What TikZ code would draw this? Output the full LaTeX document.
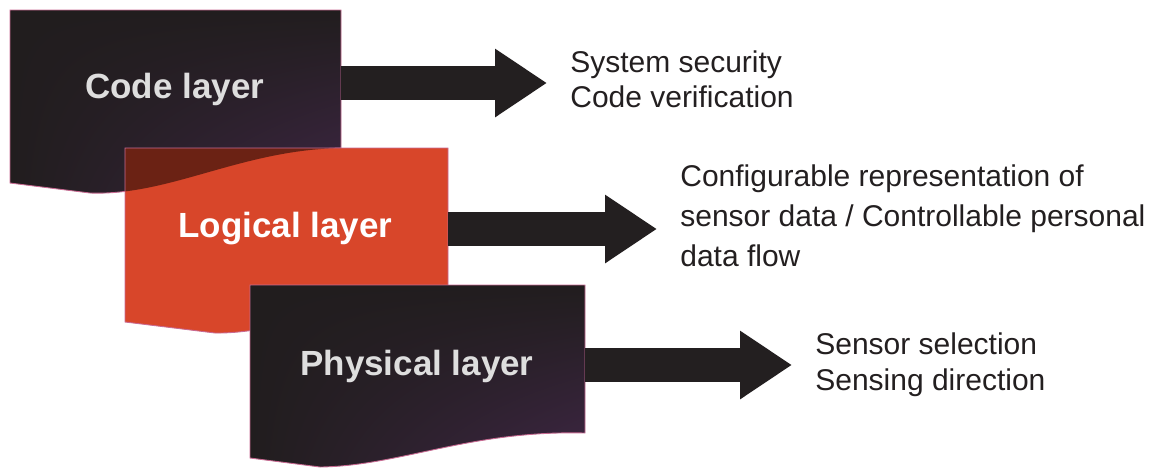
\documentclass[tikz,border=0pt]{standalone}
\usepackage{fontspec}
\setmainfont{Liberation Sans}
\usepackage{tikz}
\usetikzlibrary{arrows.meta,shadings}

\definecolor{layerdark}{HTML}{211D1E}
\definecolor{layerpurple}{HTML}{3E2644}
\definecolor{layerorange}{HTML}{D8462A}
\definecolor{layeredge}{HTML}{C86A92}
\definecolor{labelgray}{HTML}{DEDEDE}
\definecolor{arrowdark}{HTML}{231F20}

% outlines of the three layers (px coordinates)
\newcommand{\codeshape}{(10,10) -- (341,10) -- (341,148) .. controls (240,150) and (170,196) .. (90,193) -- (10,183) -- cycle}
\newcommand{\logicshape}{(125,148) -- (448,148) -- (448,300) .. controls (350,300) and (280,334) .. (215,333) -- (125,322) -- cycle}
\newcommand{\physshape}{(250,285) -- (585,285) -- (585,433) .. controls (470,430) and (400,466) .. (320,467) -- (250,458) -- cycle}

\begin{document}
\begin{tikzpicture}[x=0.02cm, y=-0.02cm,
    darklayer/.style={upper left=layerdark, upper right=layerdark, lower left=layerdark, lower right=layerpurple},
    layeredge/.style={draw=layeredge, line width=0.5pt},
    layerlabel/.style={inner sep=0pt, anchor=base west, font=\bfseries\fontsize{19.9}{22}\selectfont},
    infotext/.style={inner sep=0pt, anchor=north west, align=left, text=arrowdark},
    bigarrow/.style={draw=arrowdark, line width=0.68cm, -{Triangle[length=1.04cm, width=1.3cm]}}]
        \useasboundingbox (0,0) rectangle (1164,468);

        % Code layer
        \shade[darklayer] \codeshape;
        \draw[layeredge] \codeshape;

        % Logical layer, code layer shows through where they overlap
        \fill[layerorange] \logicshape;
        \begin{scope}
            \clip \logicshape;
            \fill[black, opacity=0.5] \codeshape;
        \end{scope}
        \draw[layeredge] \logicshape;

        % Physical layer
        \shade[darklayer] \physshape;
        \draw[layeredge] \physshape;

        % Layer names
        \node[layerlabel, text=labelgray] (codelbl) at (85,98) {Code layer};
        \node[layerlabel, text=white] (logiclbl) at (178,237) {Logical layer};
        \node[layerlabel, text=labelgray] (physlbl) at (300,375) {Physical layer};

        % What each layer gives
        \node[infotext, font=\fontsize{17.07}{19.9}\selectfont] (codetxt) at (570,50)
            {System security\\Code verification};
        \node[infotext, font=\fontsize{17.07}{22.8}\selectfont] (logictxt) at (680,164)
            {Configurable representation of\\sensor data / Controllable personal\\data flow};
        \node[infotext, font=\fontsize{17.07}{21}\selectfont] (phystxt) at (815,332)
            {Sensor selection\\Sensing direction};

        % Arrows
        \coordinate (codeR) at (341,83);
        \coordinate (logicR) at (448,229);
        \coordinate (physR) at (585,365);
        \draw[bigarrow, shorten >=0.46cm] (codeR) -- (codeR -| codetxt.west);
        \draw[bigarrow, shorten >=0.46cm] (logicR) -- (logicR -| logictxt.west);
        \draw[bigarrow, shorten >=0.46cm] (physR) -- (physR -| phystxt.west);

    \end{tikzpicture}
\end{document}
